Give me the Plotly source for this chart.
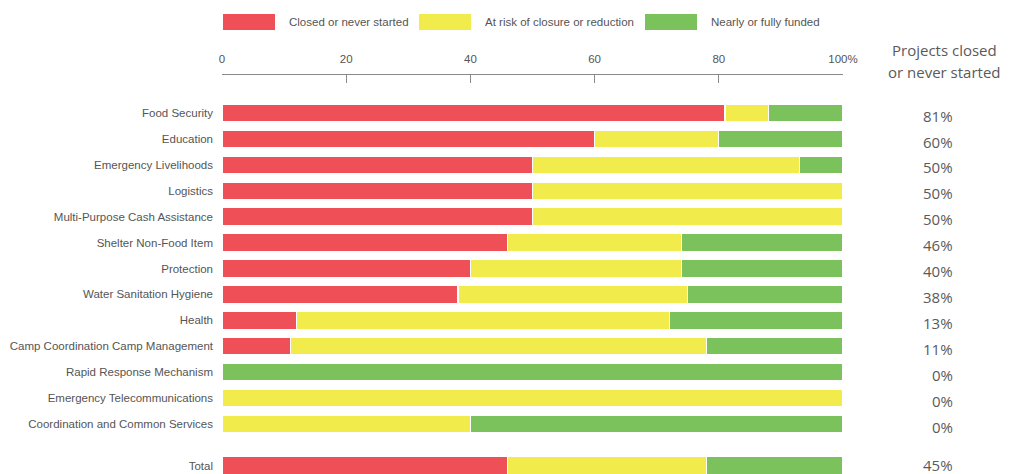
import plotly.graph_objects as go

# ---- data ----
categories = [
    "Food Security", "Education", "Emergency Livelihoods", "Logistics",
    "Multi-Purpose Cash Assistance", "Shelter Non-Food Item", "Protection",
    "Water Sanitation Hygiene", "Health", "Camp Coordination Camp Management",
    "Rapid Response Mechanism", "Emergency Telecommunications",
    "Coordination and Common Services", "Total",
]
closed = [81, 60, 50, 50, 50, 46, 40, 38, 12, 11, 0, 0, 0, 46]
at_risk = [7, 20, 43, 50, 50, 28, 34, 37, 60, 67, 0, 100, 40, 32]
funded = [12, 20, 7, 0, 0, 26, 26, 25, 28, 22, 100, 0, 60, 22]
closed_labels = ["81%", "60%", "50%", "50%", "50%", "46%", "40%", "38%",
                 "13%", "11%", "0%", "0%", "0%", "45%"]
series_names = ["Closed or never started", "At risk of closure or reduction",
                "Nearly or fully funded"]
x_tickvals = [0, 20, 40, 60, 80, 100]
x_ticktext = ["0", "20", "40", "60", "80", "100%"]
right_header = ["Projects closed", "or never started"]

# ---- styling ----
colors = ["#EF4F56", "#F2EB4C", "#7BC25D"]
W, H = 1013, 474
L, R, T, B = 222, 843, 75, 0
narrow = "Liberation Sans Narrow, Arial Narrow, Liberation Sans, Arial, sans-serif"
regular = "Open Sans, Noto Sans, sans-serif"
txt = "#555555"
fs = 11.5

# row positions: total row separated by an extra gap
n = len(categories)
y_pos = [float(i) for i in range(n - 1)] + [n - 1 + 0.6]
label_offsets = [0.1] * (n - 1) + [0.0]


def px_x(p):
    return (p - L) / (R - L)


def px_y(p):
    return (H - B - p) / (H - B - T)


fig = go.Figure()
for name, vals, col in zip(series_names, [closed, at_risk, funded], colors):
    fig.add_trace(go.Bar(
        y=y_pos, x=vals, name=name, orientation="h", width=0.68,
        marker=dict(color=col, line=dict(color="white", width=1.2)),
        showlegend=False, hoverinfo="x+name",
    ))

# right-hand labels
for yp, off, lab in zip(y_pos, label_offsets, closed_labels):
    fig.add_annotation(x=px_x(955), xref="paper", y=yp + off, yref="y",
                       text=lab, showarrow=False, xanchor="right", yanchor="middle",
                       font=dict(family=regular, size=15, color="#5a5a5a"))
for i, line in enumerate(right_header):
    fig.add_annotation(x=px_x(944), xref="paper", y=px_y(50 + 22 * i), yref="paper",
                       text=line, showarrow=False, xanchor="center", yanchor="middle",
                       font=dict(family=regular, size=15, color="#5a5a5a"))

# custom legend (wide swatches)
sw = [(223, 275, 287), (419, 471, 483), (645, 697, 709)]
for (x0, x1, xt), name, col in zip(sw, series_names, colors):
    fig.add_shape(type="rect", xref="paper", yref="paper",
                  x0=px_x(x0), x1=px_x(x1), y0=px_y(30), y1=px_y(14),
                  fillcolor=col, line=dict(width=0))
    fig.add_annotation(x=px_x(xt), xref="paper", y=px_y(22), yref="paper",
                       text=name, showarrow=False, xanchor="left", yanchor="middle",
                       font=dict(family=narrow, size=fs, color=txt))

top_range = -(113 - T) / 25.92
bot_range = 12 + (H - B - 424) / 25.92

fig.update_layout(
    width=W, height=H, barmode="stack",
    margin=dict(l=L, r=W - R, t=T, b=B, pad=0, autoexpand=False),
    paper_bgcolor="white", plot_bgcolor="white",
    xaxis=dict(side="top", range=[0, 100], tickvals=x_tickvals, ticktext=x_ticktext,
               ticks="inside", ticklen=8, tickcolor="#8a8a8a", tickwidth=1,
               showline=True, linecolor="#8a8a8a", linewidth=1, automargin=False,
               showgrid=False, zeroline=False, ticklabelstandoff=6,
               tickfont=dict(family=narrow, size=fs, color=txt), fixedrange=True),
    yaxis=dict(range=[bot_range, top_range], tickvals=y_pos, ticktext=categories,
               showgrid=False, zeroline=False, showline=False, ticks="",
               ticklabelstandoff=8, automargin=False,
               tickfont=dict(family=narrow, size=fs, color=txt), fixedrange=True),
    font=dict(family=narrow, color=txt),
)

fig.write_html("out.html")
